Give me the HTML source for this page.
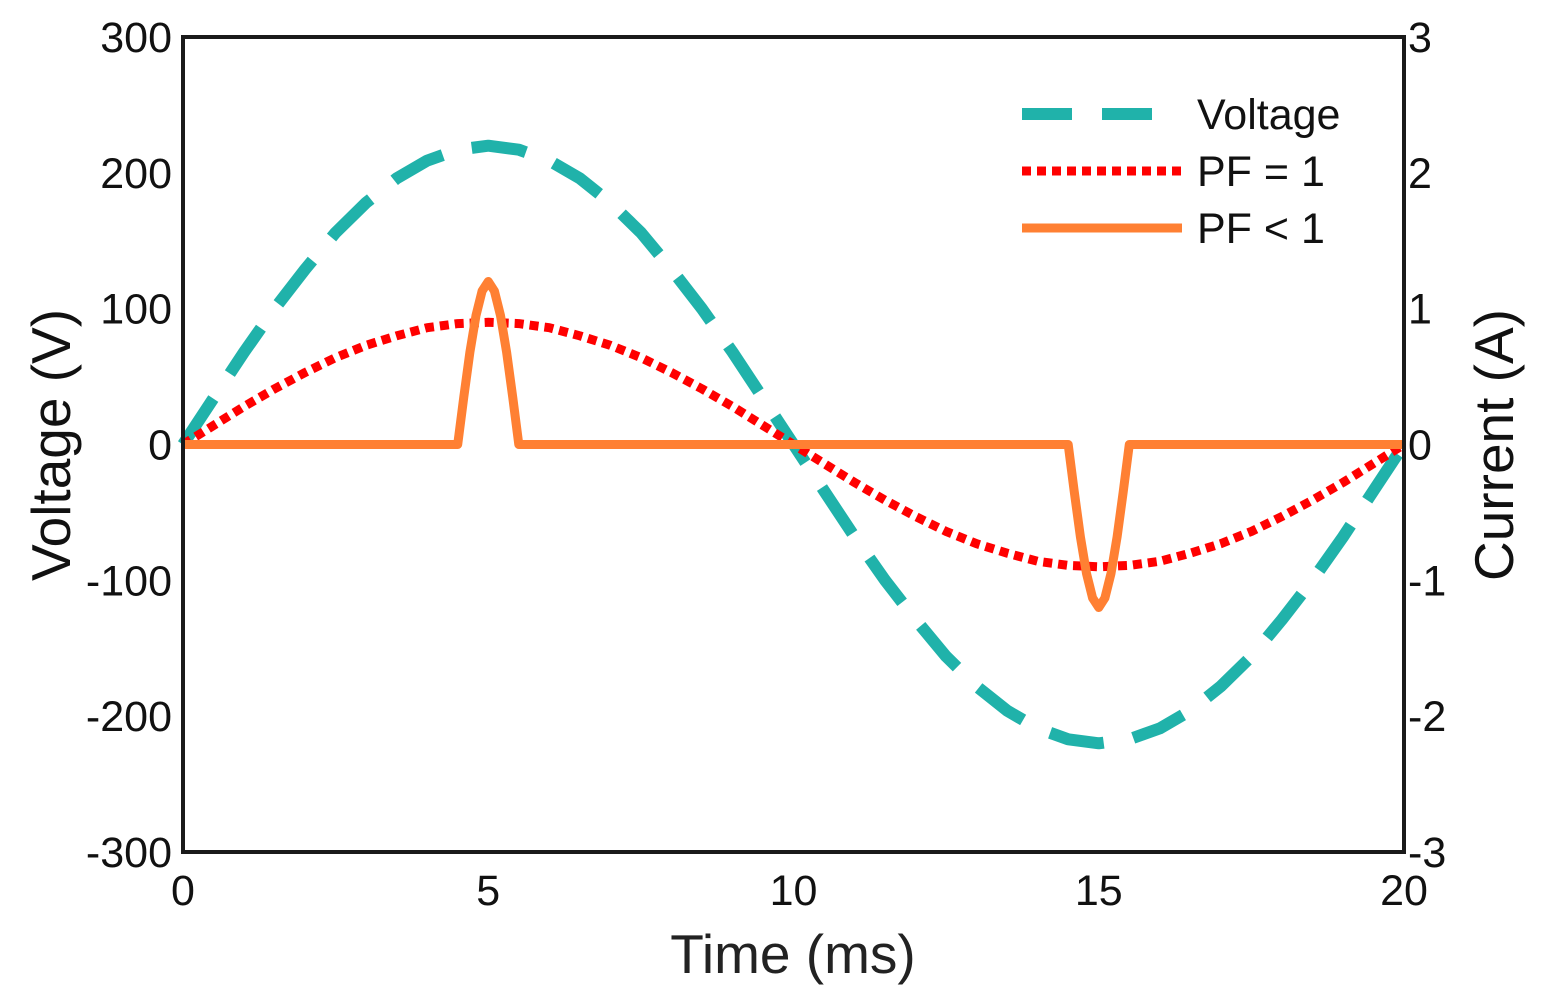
<!DOCTYPE html>
<html><head><meta charset="utf-8"><style>
html,body{margin:0;padding:0;background:#fff;}
svg{display:block;font-family:"Liberation Sans",Arial,sans-serif;}
</style></head><body>
<svg id="chart" width="1548" height="1007" viewBox="0 0 1548 1007">
<g id="series"></g>
<rect x="183" y="37" width="1221" height="815" fill="none" stroke="#1a1a1a" stroke-width="4"/>
<g id="ticks" font-size="43" fill="#111"></g>
<text x="793" y="973" font-size="55" text-anchor="middle" fill="#222">Time (ms)</text>
<text transform="translate(70,445) rotate(-90)" font-size="55" text-anchor="middle" fill="#111">Voltage (V)</text>
<text transform="translate(1513,445) rotate(-90)" font-size="55" text-anchor="middle" fill="#111">Current (A)</text>
<g font-size="43" fill="#111">
<g><line x1="1022" y1="114" x2="1182" y2="114" stroke="#20B2AA" stroke-width="12" stroke-dasharray="50,30"/><text x="1197" y="129">Voltage</text></g>
<g><line x1="1022" y1="171" x2="1182" y2="171" stroke="#FF0000" stroke-width="9" stroke-dasharray="9,6"/><text x="1197" y="186">PF = 1</text></g>
<g><line x1="1022" y1="228" x2="1182" y2="228" stroke="#FF8033" stroke-width="9"/><text x="1197" y="243">PF &lt; 1</text></g>
</g>
</svg>
<script>
const xTicks=[0,5,10,15,20];
const yTicksV=[300,200,100,0,-100,-200,-300];
const yTicksA=[3,2,1,0,-1,-2,-3];
const voltTimes=[0,0.5,1,1.5,2,2.5,3,3.5,4,4.5,5,5.5,6,6.5,7,7.5,8,8.5,9,9.5,10,10.5,11,11.5,12,12.5,13,13.5,14,14.5,15,15.5,16,16.5,17,17.5,18,18.5,19,19.5,20];
const voltValues=[0,34,68,100,129,156,178,196,209,217,220,217,209,196,178,156,129,100,68,34,0,-34,-68,-100,-129,-156,-178,-196,-209,-217,-220,-217,-209,-196,-178,-156,-129,-100,-68,-34,0];
const pf1Values=[0,0.14,0.28,0.41,0.53,0.64,0.73,0.80,0.86,0.89,0.9,0.89,0.86,0.80,0.73,0.64,0.53,0.41,0.28,0.14,0,-0.14,-0.28,-0.41,-0.53,-0.64,-0.73,-0.80,-0.86,-0.89,-0.9,-0.89,-0.86,-0.80,-0.73,-0.64,-0.53,-0.41,-0.28,-0.14,0];
const pfTimes=[0,4.5,4.6,4.7,4.8,4.9,5.0,5.1,5.2,5.3,5.4,5.5,14.5,14.6,14.7,14.8,14.9,15.0,15.1,15.2,15.3,15.4,15.5,20];
const pfValues=[0,0,0.35,0.68,0.95,1.13,1.2,1.13,0.95,0.68,0.35,0,0,-0.35,-0.68,-0.95,-1.13,-1.2,-1.13,-0.95,-0.68,-0.35,0,0];
const X0=183,X1=1404,Y0=852,Y1=37;
function xs(t){return X0+(t-0)/(20-0)*(X1-X0);}
function yV(v){return Y0-(v+300)/600*(Y0-Y1);}
function yA(a){return Y0-(a+3)/6*(Y0-Y1);}
const NS="http://www.w3.org/2000/svg";
const series=document.getElementById('series');
function addLine(ts,vs,fy,color,w,dash,name){
  const p=document.createElementNS(NS,'polyline');
  p.setAttribute('points',ts.map((t,i)=>xs(t).toFixed(1)+','+fy(vs[i]).toFixed(1)).join(' '));
  p.setAttribute('fill','none');p.setAttribute('stroke',color);p.setAttribute('stroke-width',w);
  p.setAttribute('stroke-linejoin','round');
  if(dash)p.setAttribute('stroke-dasharray',dash);
  
  
  series.appendChild(p);
}
addLine(voltTimes,voltValues,yV,'#20B2AA',12,'55,30','voltage-line');
addLine(voltTimes,pf1Values,yA,'#FF0000',9,'9,6','pf1-current-line');
addLine(pfTimes,pfValues,yA,'#FF8033',9,null,'pf-lt1-current-line');
const tg=document.getElementById('ticks');
function addText(x,y,s,anchor,name){
  const t=document.createElementNS(NS,'text');
  t.setAttribute('x',x);t.setAttribute('y',y);t.setAttribute('text-anchor',anchor);
  t.textContent=s;
  
  
  tg.appendChild(t);
}
xTicks.forEach(v=>addText(xs(v),905,String(v),'middle','x-tick-label'));
yTicksV.forEach(v=>addText(172,yV(v)+15,String(v),'end','y-left-tick-label'));
yTicksA.forEach(v=>addText(1408,yA(v)+15,String(v),'start','y-right-tick-label'));
</script>
</body></html>
